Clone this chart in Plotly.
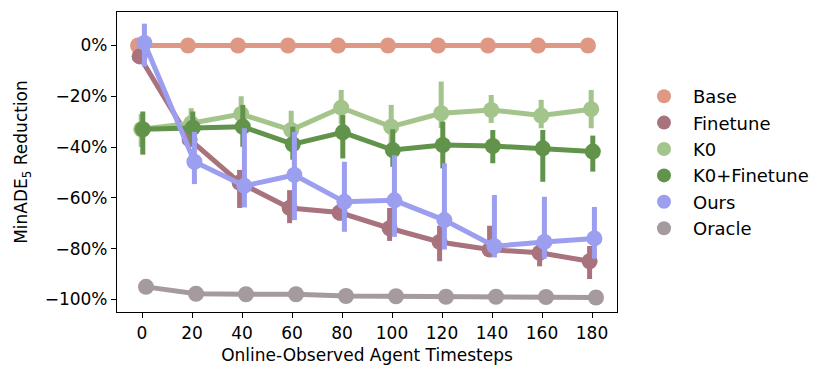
import numpy as np
import plotly.graph_objects as go

# Online-observed agent timesteps (categorical x)
timesteps = ["0", "20", "40", "60", "80", "100", "120", "140", "160", "180"]

methods = ["Base", "Finetune", "K0", "K0+Finetune", "Ours", "Oracle"]
colors = ["#df9883", "#a8737d", "#a3c48a", "#61934a", "#9c9ef0", "#a59a9e"]

# MinADE5 reduction (%), point estimates
base = [0, 0, 0, 0, 0, 0, 0, 0, 0, 0]
finetune = [-4.3, -37, -54, -64, -65.8, -72, -77.4, -80.4, -81.7, -85]
k0 = [-33, -30.6, -27, -33.3, -24.5, -32, -26.7, -25.4, -27.6, -25.1]
k0_finetune = [-33, -32.4, -32, -38.9, -34.2, -41.2, -39.2, -39.6, -40.5, -41.8]
ours = [1, -45.8, -55.3, -51, -61.6, -61, -68.8, -79.1, -77.4, -76]
oracle = [-95.1, -97.8, -98, -98, -98.7, -98.8, -99, -99, -99.1, -99.3]

# confidence interval bounds (upper, lower)
base_hi = [0.3, 0.3, 0.3, 0.3, 0.3, 0.3, 0.3, 0.3, 0.3, 0.3]
base_lo = [-0.3, -0.3, -0.3, -0.3, -0.3, -0.3, -0.3, -0.3, -0.3, -0.3]
finetune_hi = [-2, -34, -49, -57, -62, -64, -71, -71, -79, -79]
finetune_lo = [-7, -40, -64, -70, -69, -77, -85, -83, -87, -92]
k0_hi = [-27, -24.7, -20, -25.7, -17.5, -23.4, -14.2, -19.5, -21.4, -17.5]
k0_lo = [-40, -35, -33, -40, -31, -40, -32.5, -30.5, -32.6, -32.6]
k0_finetune_hi = [-26, -26, -23.4, -32, -27.4, -33, -30, -33.3, -33.3, -35.5]
k0_finetune_lo = [-43, -38.4, -39.9, -45, -44.5, -47.8, -48.4, -46.4, -53.7, -49.7]
ours_hi = [8.6, -34, -32.6, -34, -45.8, -43.2, -46.4, -58.9, -59.6, -63.6]
ours_lo = [-8.3, -54.6, -63.8, -68.8, -73.4, -75.4, -80.4, -83.5, -84, -84]
oracle_hi = [-94.5, -97.3, -97.5, -97.5, -98.2, -98.3, -98.5, -98.5, -98.6, -98.8]
oracle_lo = [-95.7, -98.3, -98.5, -98.5, -99.2, -99.3, -99.5, -99.5, -99.6, -99.8]

values = [base, finetune, k0, k0_finetune, ours, oracle]
highs = [base_hi, finetune_hi, k0_hi, k0_finetune_hi, ours_hi, oracle_hi]
lows = [base_lo, finetune_lo, k0_lo, k0_finetune_lo, ours_lo, oracle_lo]

FONT = "DejaVu Sans"
FS = 17
idx = np.arange(len(timesteps))
offsets = np.linspace(-0.08, 0.08, len(methods))  # seaborn-like dodge

fig = go.Figure()
for name, col, y, hi, lo, off in zip(methods, colors, values, highs, lows, offsets):
    y = np.array(y)
    fig.add_trace(go.Scatter(
        x=idx + off, y=y, name=name, mode="lines+markers", showlegend=False,
        line=dict(color=col, width=5),
        marker=dict(color=col, size=16),
        error_y=dict(type="data", symmetric=False,
                     array=np.array(hi) - y, arrayminus=y - np.array(lo),
                     color=col, thickness=5, width=0),
    ))
    # marker-only legend entry
    fig.add_trace(go.Scatter(
        x=[None], y=[None], name=name, mode="markers",
        marker=dict(color=col, size=14),
    ))

# page body has an 8px margin, so margins are shifted by 8
fig.update_layout(
    width=830, height=379,
    margin=dict(l=109, r=221, t=4, b=75, autoexpand=False),
    plot_bgcolor="white", paper_bgcolor="white",
    font=dict(family=FONT, size=FS, color="black"),
    showlegend=True,
    legend=dict(x=1.036, y=0.78, yanchor="top", xanchor="left",
                font=dict(size=18), itemwidth=48,
                tracegroupgap=0, bgcolor="rgba(0,0,0,0)"),
)
fig.update_xaxes(
    range=[-0.5, 9.5], tickvals=idx, ticktext=timesteps, automargin=False,
    showgrid=False, zeroline=False, showline=True, mirror=True,
    linecolor="black", linewidth=1.2, ticks="outside", ticklen=5,
    tickcolor="black", tickfont=dict(size=FS),
    title=dict(text="Online-Observed Agent Timesteps", standoff=7,
               font=dict(size=FS)),
)
fig.update_yaxes(
    range=[-105, 13.2], tickvals=[0, -20, -40, -60, -80, -100], automargin=False,
    ticktext=["0%", "−20%", "−40%", "−60%", "−80%", "−100%"],
    showgrid=False, zeroline=False, showline=True, mirror=True,
    linecolor="black", linewidth=1.2, ticks="outside", ticklen=5,
    tickcolor="black", tickfont=dict(size=FS),
    title=dict(text="MinADE<sub>5</sub> Reduction", standoff=12,
               font=dict(size=FS)),
)

fig.write_html("out.html")
